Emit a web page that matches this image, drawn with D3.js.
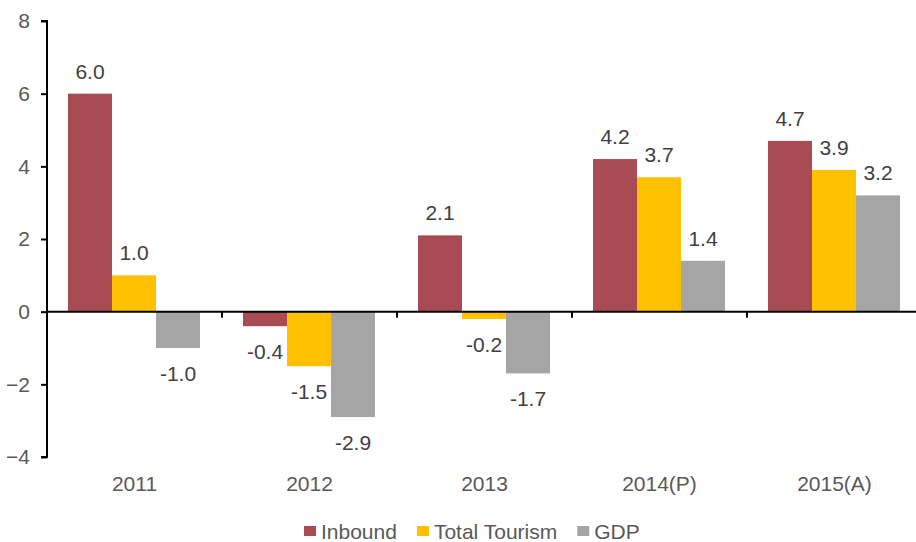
<!DOCTYPE html>
<html>
<head>
<meta charset="utf-8">
<script src="https://cdn.jsdelivr.net/npm/d3@7"></script>
<style>
  body { margin: 0; background: #fff; }
  text { font-family: "Liberation Sans", Arial, sans-serif; }
</style>
</head>
<body>
<div id="chart"></div>
<script>
var years = ['2011', '2012', '2013', '2014(P)', '2015(A)'];
var series = ['Inbound', 'Total Tourism', 'GDP'];
var inbound = [6.0, -0.4, 2.1, 4.2, 4.7];
var totalTourism = [1.0, -1.5, -0.2, 3.7, 3.9];
var gdp = [-1.0, -2.9, -1.7, 1.4, 3.2];
var yTicks = [-4, -2, 0, 2, 4, 6, 8];
var colors = ['#A94B53', '#FFC000', '#A5A5A5'];

var values = [inbound, totalTourism, gdp];
var data = years.map(function(y, i) {
    return series.map(function(s, j) { return {year: y, series: s, value: values[j][i], k: j}; });
});

var width = 916, height = 542;
var svg = d3.select('#chart').append('svg')
    .attr('width', width)
    .attr('height', height);

var x0 = d3.scaleBand().domain(years).range([47, 922]);
var x1 = d3.scaleBand().domain(series).range([21, 153]);
var y = d3.scaleLinear().domain([-4, 8]).range([457, 21]);

// bars
var group = svg.selectAll('g.year')
    .data(data)
  .enter().append('g')
    .attr('class', 'year')
    .attr('transform', function(d, i) { return 'translate(' + x0(years[i]) + ',0)'; });

group.selectAll('rect')
    .data(function(d) { return d; })
  .enter().append('rect')
    .attr('x', function(d) { return x1(d.series); })
    .attr('width', x1.bandwidth())
    .attr('y', function(d) { return y(Math.max(0, d.value)); })
    .attr('height', function(d) { return Math.abs(y(d.value) - y(0)); })
    .attr('fill', function(d) { return colors[d.k]; });

group.selectAll('text.lbl')
    .data(function(d) { return d; })
  .enter().append('text')
    .attr('class', 'lbl')
    .attr('x', function(d) { return x1(d.series) + x1.bandwidth() / 2; })
    .attr('y', function(d) { return d.value >= 0 ? y(d.value) - 15 : y(d.value) + 33; })
    .attr('text-anchor', 'middle')
    .attr('font-size', 21)
    .attr('fill', '#404040')
    .text(function(d) { return d.value.toFixed(1); });

// y axis
var yAxis = d3.axisLeft(y).tickValues(yTicks).tickSize(6).tickPadding(11).tickFormat(d3.format('d'));
var gy = svg.append('g')
    .attr('transform', 'translate(47,0)')
    .call(yAxis);
gy.select('.domain').attr('stroke', '#000').attr('stroke-width', 2).attr('d', 'M-6,21H0V457H-6');
gy.selectAll('.tick line').attr('stroke', '#000').attr('stroke-width', 2);
gy.selectAll('.tick text').attr('font-size', 21).attr('fill', '#595959')
    .attr('font-family', '"Liberation Sans", Arial, sans-serif');

// x axis along zero
var ticksX = years.map(function(d) { return x0(d) + x0.bandwidth(); });
svg.append('line')
    .attr('x1', 47).attr('x2', width)
    .attr('y1', y(0)).attr('y2', y(0))
    .attr('stroke', '#000').attr('stroke-width', 2);
svg.selectAll('line.xt')
    .data(ticksX.filter(function(t) { return t < width; }))
  .enter().append('line')
    .attr('class', 'xt')
    .attr('x1', function(d) { return d; }).attr('x2', function(d) { return d; })
    .attr('y1', y(0)).attr('y2', y(0) + 6)
    .attr('stroke', '#000').attr('stroke-width', 2);

svg.selectAll('text.xl')
    .data(years)
  .enter().append('text')
    .attr('class', 'xl')
    .attr('x', function(d) { return x0(d) + x0.bandwidth() / 2; })
    .attr('y', 491)
    .attr('text-anchor', 'middle')
    .attr('font-size', 21)
    .attr('fill', '#595959')
    .text(function(d) { return d; });

// legend
var legend = svg.append('g');
var lx = 304;
series.forEach(function(s, i) {
    legend.append('rect')
        .attr('x', lx).attr('y', 526)
        .attr('width', 12).attr('height', 10)
        .attr('fill', colors[i]);
    var t = legend.append('text')
        .attr('x', lx + 17).attr('y', 539)
        .attr('font-size', 21)
        .attr('fill', '#595959')
        .text(s);
    lx = lx + 17 + t.node().getComputedTextLength() + 20;
});
</script>
</body>
</html>
